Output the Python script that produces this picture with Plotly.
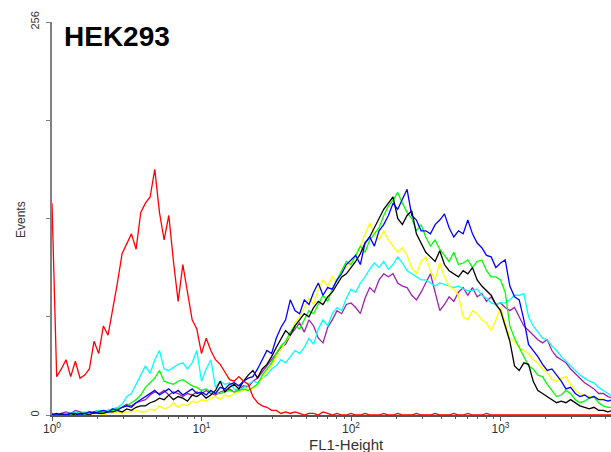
import plotly.graph_objects as go

# FACS channels (log scale, 32 channels per decade)
channels = list(range(121))
fl1 = [10 ** (c / 32) for c in channels]

red = [138, 25, 30, 36, 25, 35, 24, 26, 30, 48,
       40, 58, 52, 68, 86, 105, 112, 118, 108, 132,
       138, 142, 160, 132, 114, 130, 100, 74, 98, 80,
       62, 56, 40, 50, 42, 36, 33, 28, 23, 22,
       25, 22, 20, 12, 8, 6, 5, 3, 3, 1,
       2, 1, 2, 1, 0, 1, 1, 0, 2, 1,
       0, 1, 0, 0, 1, 0, 0, 1, 0, 0,
       0, 1, 0, 0, 1, 0, 0, 0, 1, 0,
       0, 0, 1, 0, 0, 0, 1, 0, 0, 1,
       0, 0, 0, 1, 0, 0, 0, 0, 0, 0,
       0, 0, 0, 0, 0, 0, 0, 0, 0, 0,
       0, 0, 0, 0, 0, 0, 0, 0, 0, 0, 0]

blue = [0, 0, 1, 0, 1, 1, 0, 1, 2, 1,
        2, 3, 2, 4, 3, 5, 6, 5, 8, 10,
        12, 14, 16, 13, 15, 17, 14, 16, 13, 15,
        17, 14, 15, 13, 16, 14, 18, 17, 20, 21,
        19, 22, 24, 25, 30, 36, 42, 40, 50, 57,
        62, 75, 68, 66, 75, 72, 80, 86, 78, 83,
        82, 88, 92, 98, 101, 104, 98, 112, 116, 110,
        120, 124, 130, 138, 134, 141, 147, 130, 127, 120,
        120, 118, 124, 127, 131, 122, 116, 120, 118, 127,
        118, 112, 109, 104, 103, 96, 99, 101, 84, 77,
        75, 62, 46, 42, 38, 33, 29, 30, 26, 22,
        17, 18, 14, 12, 13, 11, 12, 10, 10, 9, 10]

black = [0, 1, 0, 0, 1, 0, 1, 1, 0, 2,
         1, 1, 2, 2, 3, 2, 4, 3, 5, 6,
         6, 8, 9, 11, 10, 13, 10, 12, 11, 9,
         13, 12, 14, 11, 13, 16, 22, 15, 18, 20,
         17, 22, 26, 29, 24, 30, 33, 38, 44, 50,
         55, 52, 58, 62, 66, 64, 70, 74, 72, 77,
         80, 85, 90, 92, 96, 100, 105, 112, 116, 122,
         127, 134, 138, 142, 128, 124, 130, 133, 118, 112,
         106, 103, 100, 107, 98, 94, 92, 90, 94, 92,
         96, 88, 84, 81, 78, 72, 68, 58, 48, 32,
         29, 34, 33, 22, 16, 14, 12, 10, 8, 9,
         8, 10, 8, 6, 5, 4, 5, 3, 3, 2, 3]

green = [0, 0, 0, 1, 0, 1, 1, 0, 1, 2,
         1, 2, 2, 3, 4, 5, 6, 8, 10, 13,
         18, 21, 24, 29, 22, 21, 20, 22, 23, 21,
         19, 18, 16, 17, 15, 14, 14, 15, 16, 15,
         16, 17, 16, 18, 20, 26, 30, 34, 40, 45,
         48, 54, 58, 56, 62, 68, 66, 72, 78, 74,
         82, 88, 94, 100, 98, 104, 110, 106, 114, 118,
         122, 130, 136, 140, 145, 138, 132, 128, 120, 124,
         116, 110, 114, 108, 104, 100, 106, 98, 99, 101,
         96, 100, 101, 94, 90, 90, 88, 80, 58, 50,
         44, 38, 32, 30, 26, 25, 20, 16, 12, 13,
         16, 14, 10, 8, 9, 11, 12, 8, 6, 5, 5]

yellow = [0, 0, 0, 0, 1, 0, 0, 1, 0, 1,
          1, 0, 1, 1, 2, 1, 2, 2, 3, 2,
          2, 4, 3, 6, 4, 5, 8, 5, 7, 6,
          9, 8, 10, 9, 11, 12, 10, 13, 12, 14,
          15, 16, 18, 17, 20, 24, 28, 32, 38, 42,
          48, 52, 60, 64, 70, 76, 72, 82, 88, 84,
          90, 86, 94, 96, 100, 104, 110, 118, 125, 118,
          114, 120, 114, 110, 106, 109, 104, 96, 92, 100,
          103, 94, 88, 99, 90, 84, 82, 78, 64, 62,
          68, 66, 62, 60, 55, 62, 70, 60, 50, 48,
          44, 42, 40, 36, 34, 30, 28, 23, 22, 24,
          25, 20, 16, 14, 13, 12, 12, 11, 10, 9, 8]

cyan = [0, 1, 0, 1, 1, 2, 1, 2, 1, 2,
        3, 2, 3, 4, 5, 7, 12, 14, 20, 27,
        32, 27, 36, 42, 30, 29, 31, 33, 34, 30,
        34, 42, 22, 30, 36, 18, 22, 20, 21, 17,
        16, 18, 20, 22, 21, 24, 26, 30, 32, 36,
        34, 38, 42, 40, 44, 50, 46, 56, 62, 58,
        66, 70, 68, 76, 82, 80, 86, 90, 95, 99,
        96, 100, 95, 98, 103, 99, 94, 92, 90, 88,
        88, 86, 84, 86, 85, 84, 83, 84, 82, 81,
        81, 82, 78, 76, 73, 72, 73, 73, 75, 78,
        78, 79, 64, 58, 54, 50, 49, 45, 42, 38,
        35, 32, 29, 26, 24, 22, 21, 18, 16, 14, 12]

purple = [1, 0, 1, 2, 1, 3, 2, 1, 2, 2,
          3, 2, 3, 4, 4, 5, 7, 6, 8, 9,
          10, 13, 15, 14, 16, 13, 15, 14, 12, 14,
          13, 15, 14, 16, 14, 13, 15, 16, 17, 15,
          17, 19, 18, 22, 24, 28, 32, 36, 40, 44,
          46, 52, 56, 60, 54, 62, 58, 50, 47, 57,
          62, 68, 66, 72, 73, 70, 66, 76, 83, 80,
          88, 92, 90, 92, 86, 84, 83, 78, 75, 80,
          86, 92, 80, 68, 72, 77, 74, 80, 83, 78,
          83, 77, 79, 74, 77, 72, 73, 70, 68, 70,
          64, 58, 55, 52, 49, 47, 49, 42, 38, 36,
          34, 30, 27, 24, 21, 19, 17, 14, 14, 12, 11]

series = [
    ("purple", purple, "#a020b0"),
    ("cyan", cyan, "#00ffff"),
    ("yellow", yellow, "#ffff00"),
    ("green", green, "#00ff00"),
    ("black", black, "#000000"),
    ("blue", blue, "#0000ff"),
    ("red", red, "#ff0000"),
]

x_tickvals = [1, 10, 100, 1000]
x_ticktext = ["10<sup>0</sup>", "10<sup>1</sup>", "10<sup>2</sup>", "10<sup>3</sup>"]
x_minor = [2, 3, 4, 5, 6, 7, 8, 9, 20, 30, 40, 50, 60, 70, 80, 90,
           200, 300, 400, 500, 600, 700, 800, 900, 2000, 3000, 4000, 5000]
y_tickvals = [0, 64, 128, 192, 256]
y_ticktext = ["0", "", "", "", "256"]

fig = go.Figure()
for name, vals, col in series:
    fig.add_trace(go.Scatter(x=fl1, y=vals, mode="lines", name=name,
                             line=dict(color=col, width=1.3), showlegend=False))

font = "Liberation Sans, Arial, sans-serif"
fig.update_layout(
    width=611, height=452,
    margin=dict(l=52, r=0, t=22, b=37),
    paper_bgcolor="white", plot_bgcolor="white",
    font=dict(family=font, color="#333333"),
    xaxis=dict(type="log", range=[0, 3.739], showgrid=False, zeroline=False,
               showline=True, linecolor="#555555", linewidth=1.5,
               tickvals=x_tickvals, ticktext=x_ticktext,
               ticks="outside", ticklen=4, tickcolor="#555555", tickwidth=1.2,
               tickfont=dict(size=12, color="#333333"), ticklabelstandoff=-2,
               minor=dict(tickvals=x_minor, ticks="outside", ticklen=2,
                          tickcolor="#555555", tickwidth=1)),
    yaxis=dict(range=[0, 256], showgrid=False, zeroline=False,
               showline=True, linecolor="#808080", linewidth=1.5,
               tickvals=y_tickvals, ticktext=y_ticktext, tickangle=-90,
               ticks="outside", ticklen=4, tickcolor="#808080",
               tickfont=dict(size=11, color="#333333"), ticklabelstandoff=3),
    annotations=[
        dict(text="<b>HEK293</b>", xref="paper", yref="paper", x=0.0179, y=0.962,
             xanchor="left", yanchor="middle", showarrow=False,
             font=dict(size=28, color="#000000", family=font)),
        dict(text="Events", xref="paper", yref="paper", x=-0.0555, y=0.4987,
             xanchor="center", yanchor="middle", showarrow=False, textangle=-90,
             font=dict(size=12, color="#333333", family=font)),
        dict(text="FL1-Height", xref="paper", yref="paper", x=0.5277, y=-0.0745,
             xanchor="center", yanchor="middle", showarrow=False,
             font=dict(size=15, color="#333333", family=font)),
    ],
)

fig.write_html("out.html")
